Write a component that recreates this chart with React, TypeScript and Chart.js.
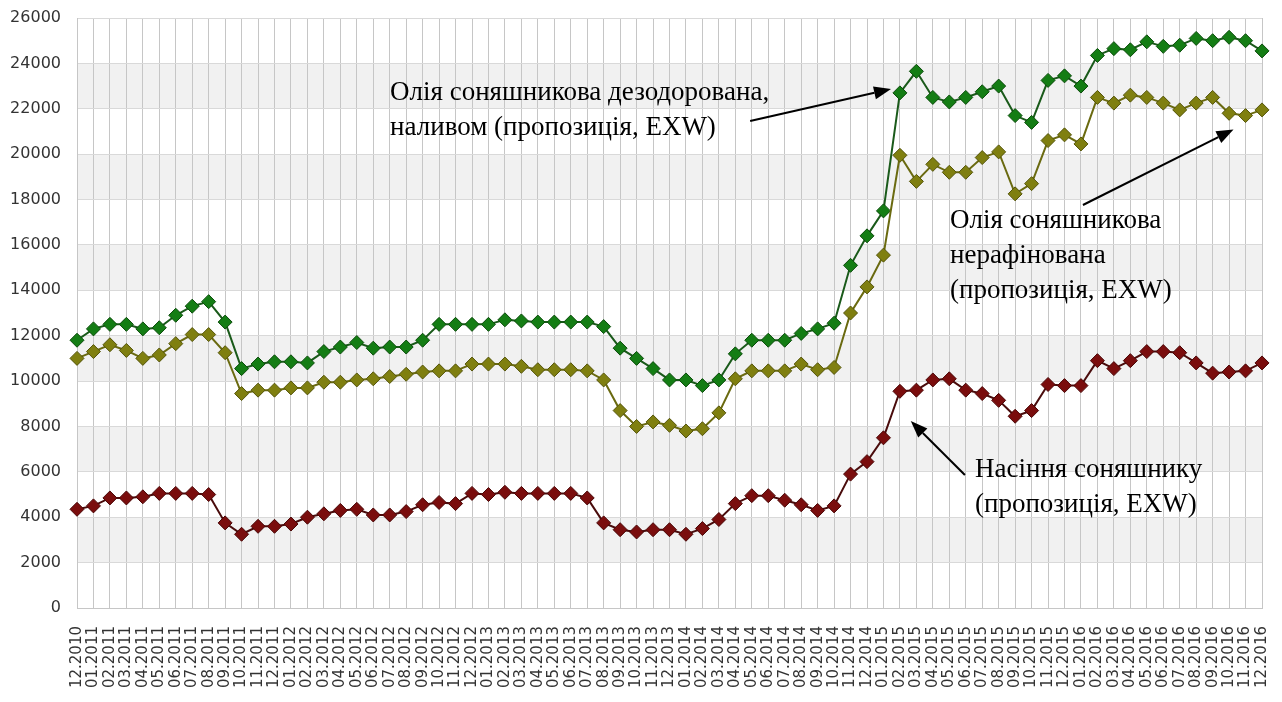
import React, { useEffect, useRef } from "react";
import { Chart, registerables } from "chart.js";

Chart.register(...registerables);

const months: string[] = [
  "12.2010",
  "01.2011", "02.2011", "03.2011", "04.2011", "05.2011", "06.2011", "07.2011", "08.2011", "09.2011", "10.2011", "11.2011", "12.2011",
  "01.2012", "02.2012", "03.2012", "04.2012", "05.2012", "06.2012", "07.2012", "08.2012", "09.2012", "10.2012", "11.2012", "12.2012",
  "01.2013", "02.2013", "03.2013", "04.2013", "05.2013", "06.2013", "07.2013", "08.2013", "09.2013", "10.2013", "11.2013", "12.2013",
  "01.2014", "02.2014", "03.2014", "04.2014", "05.2014", "06.2014", "07.2014", "08.2014", "09.2014", "10.2014", "11.2014", "12.2014",
  "01.2015", "02.2015", "03.2015", "04.2015", "05.2015", "06.2015", "07.2015", "08.2015", "09.2015", "10.2015", "11.2015", "12.2015",
  "01.2016", "02.2016", "03.2016", "04.2016", "05.2016", "06.2016", "07.2016", "08.2016", "09.2016", "10.2016", "11.2016", "12.2016",
];

// Олія соняшникова дезодорована, наливом
const oilDeodorized: number[] = [
  11800, 12300, 12500, 12500, 12300, 12350, 12900, 13300, 13500, 12600,
  10550, 10750, 10850, 10850, 10800, 11300, 11500, 11700, 11450, 11500,
  11500, 11800, 12500, 12500, 12500, 12500, 12700, 12650, 12600, 12600,
  12600, 12600, 12400, 11450, 11000, 10550, 10050, 10050, 9800, 10050,
  11200, 11800, 11800, 11800, 12100, 12300, 12550, 15100, 16400, 17500,
  22700, 23650, 22500, 22300, 22500, 22750, 23000, 21700, 21400, 23250,
  23450, 23000, 24350, 24650, 24600, 24950, 24750, 24800, 25100, 25000,
  25150, 25000, 24550,
];

// Олія соняшникова нерафінована
const oilCrude: number[] = [
  11000, 11300, 11600, 11350, 11000, 11150, 11650, 12050, 12050, 11250,
  9450, 9600, 9600, 9700, 9700, 9950, 9950, 10050, 10100, 10200,
  10300, 10400, 10450, 10450, 10750, 10750, 10750, 10650, 10500, 10500,
  10500, 10450, 10050, 8700, 8000, 8200, 8050, 7800, 7900, 8600,
  10100, 10450, 10450, 10450, 10750, 10500, 10600, 13000, 14150, 15550,
  19950, 18800, 19550, 19200, 19200, 19850, 20100, 18250, 18700, 20600,
  20850, 20450, 22500, 22250, 22600, 22500, 22250, 21950, 22250, 22500,
  21800, 21700, 21950,
];

// Насіння соняшнику
const seeds: number[] = [
  4350, 4500, 4850, 4850, 4900, 5050, 5050, 5050, 5000, 3750,
  3250, 3600, 3600, 3700, 4000, 4150, 4300, 4350, 4100, 4100,
  4250, 4550, 4650, 4600, 5050, 5000, 5100, 5050, 5050, 5050,
  5050, 4850, 3750, 3450, 3350, 3450, 3450, 3250, 3500, 3900,
  4600, 4950, 4950, 4750, 4550, 4300, 4500, 5900, 6450, 7500,
  9550, 9600, 10050, 10100, 9600, 9450, 9150, 8450, 8700, 9850,
  9800, 9800, 10900, 10550, 10900, 11300, 11300, 11250, 10800, 10350,
  10400, 10450, 10800,
];

const yTicks: number[] = [0, 2000, 4000, 6000, 8000, 10000, 12000, 14000, 16000, 18000, 20000, 22000, 24000, 26000];

// Callouts, anchored in data space (category index, value); "at" = left end of first text baseline
const callouts = [
  {
    lines: ["Олія соняшникова дезодорована,", "наливом (пропозиція, EXW)"],
    at: [19.02, 22390],
    from: [40.9, 21460],
    to: [49.46, 22870],
  },
  {
    lines: ["Олія соняшникова", "нерафінована", "(пропозиція, EXW)"],
    at: [53.04, 16750],
    from: [61.12, 17760],
    to: [70.27, 21087],
  },
  {
    lines: ["Насіння соняшнику", "(пропозиція, EXW)"],
    at: [54.56, 5770],
    from: [53.95, 5861],
    to: [50.66, 8241],
  },
];

const bandsPlugin = {
  id: "bands",
  beforeDraw(chart: any) {
    const { ctx, chartArea, scales } = chart;
    const y = scales.y;
    ctx.save();
    ctx.fillStyle = "#f1f1f1";
    for (let i = 0; i < yTicks.length - 1; i++) {
      if (i % 2 === 1) {
        const top = y.getPixelForValue(yTicks[i + 1]);
        const bot = y.getPixelForValue(yTicks[i]);
        ctx.fillRect(chartArea.left, top, chartArea.right - chartArea.left, bot - top);
      }
    }
    ctx.restore();
  },
};

const calloutPlugin = {
  id: "callouts",
  afterDatasetsDraw(chart: any) {
    const { ctx, scales } = chart;
    const xs = scales.x;
    const ys = scales.y;
    ctx.save();
    ctx.fillStyle = "#000";
    ctx.strokeStyle = "#000";
    ctx.font = '27px "Liberation Serif", "Times New Roman", serif';
    ctx.textBaseline = "alphabetic";
    ctx.textAlign = "left";
    for (const c of callouts) {
      const tx = xs.getPixelForValue(c.at[0]);
      const ty = ys.getPixelForValue(c.at[1]);
      c.lines.forEach((ln, k) => ctx.fillText(ln, tx, ty + k * 35));
      const x1 = xs.getPixelForValue(c.from[0]);
      const y1 = ys.getPixelForValue(c.from[1]);
      const x2 = xs.getPixelForValue(c.to[0]);
      const y2 = ys.getPixelForValue(c.to[1]);
      const ang = Math.atan2(y2 - y1, x2 - x1);
      const headLen = 17;
      const headW = 6.5;
      const bx = x2 - headLen * Math.cos(ang);
      const by = y2 - headLen * Math.sin(ang);
      ctx.lineWidth = 2;
      ctx.beginPath();
      ctx.moveTo(x1, y1);
      ctx.lineTo(bx, by);
      ctx.stroke();
      ctx.beginPath();
      ctx.moveTo(x2, y2);
      ctx.lineTo(bx + headW * Math.sin(ang), by - headW * Math.cos(ang));
      ctx.lineTo(bx - headW * Math.sin(ang), by + headW * Math.cos(ang));
      ctx.closePath();
      ctx.fill();
    }
    ctx.restore();
  },
};

const seriesStyle = (fill: string, border: string, line: string) => ({
  borderColor: line,
  borderWidth: 2,
  pointStyle: "rectRot" as const,
  pointRadius: 7,
  pointBorderWidth: 1,
  pointBackgroundColor: fill,
  pointBorderColor: border,
  tension: 0,
  fill: false,
  clip: false,
});

const zeroPadding = (s: any) => {
  s.paddingLeft = 0;
  s.paddingRight = 0;
  s.paddingTop = 0;
  s.paddingBottom = 0;
};

export default function App() {
  const ref = useRef<HTMLCanvasElement>(null);
  useEffect(() => {
    if (!ref.current) return;
    const chart = new Chart(ref.current, {
      type: "line",
      data: {
        labels: months,
        datasets: [
          { label: "Насіння соняшнику", data: seeds, ...seriesStyle("#7a0d0d", "#4a0606", "#4a0c0c") },
          { label: "Олія соняшникова нерафінована", data: oilCrude, ...seriesStyle("#7f7f10", "#55550a", "#6a6a10") },
          { label: "Олія соняшникова дезодорована", data: oilDeodorized, ...seriesStyle("#147d14", "#0b4c0b", "#1a5a1a") },
        ],
      },
      options: {
        responsive: false,
        animation: false,
        layout: { padding: { top: 18, right: 20, left: 0, bottom: 0 } },
        plugins: {
          legend: { display: false },
          tooltip: { enabled: false },
          title: { display: false },
        },
        scales: {
          x: {
            type: "category",
            offset: false,
            grid: { color: "#c6c6c6", drawTicks: false, lineWidth: 1 },
            border: { color: "#c6c6c6" },
            ticks: {
              autoSkip: false,
              maxRotation: 90,
              minRotation: 90,
              padding: 18,
              color: "#333",
              font: { family: '"DejaVu Sans", sans-serif', size: 15 },
            },
            afterFit: (s: any) => {
              s.height = 94;
              zeroPadding(s);
            },
          },
          y: {
            min: 0,
            max: 26000,
            grid: { color: "#d9d9d9", drawTicks: false, lineWidth: 1 },
            border: { color: "#c6c6c6" },
            ticks: {
              stepSize: 2000,
              padding: 16,
              color: "#333",
              font: { family: '"DejaVu Sans", sans-serif', size: 16 },
              callback: (v: any) => String(v),
            },
            afterFit: (s: any) => {
              s.width = 77;
              zeroPadding(s);
            },
          },
        },
      },
      plugins: [bandsPlugin, calloutPlugin],
    } as any);
    return () => chart.destroy();
  }, []);
  return (
    <div style={{ position: "fixed", left: 0, top: 0, width: 1282, height: 702, background: "#fff" }}>
      <canvas ref={ref} width={1282} height={702} style={{ display: "block", width: 1282, height: 702 }} />
    </div>
  );
}
